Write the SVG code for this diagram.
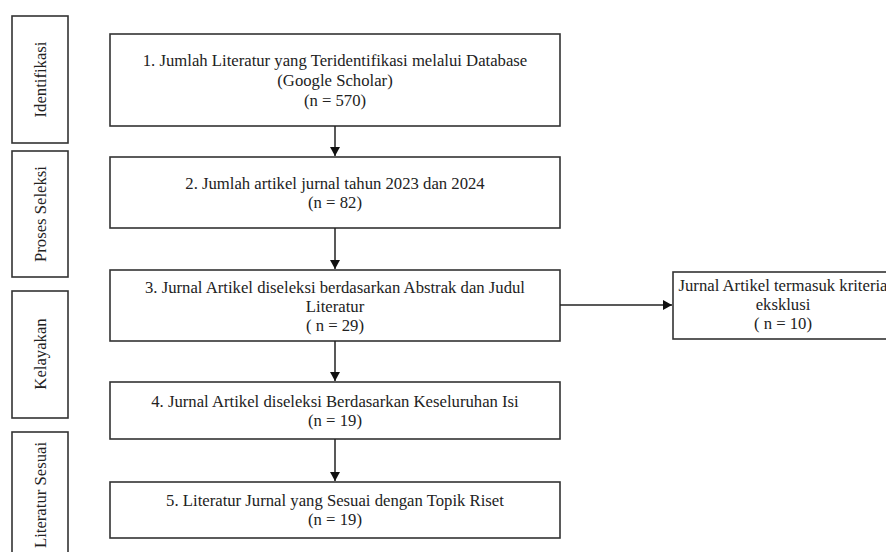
<svg xmlns="http://www.w3.org/2000/svg" width="886" height="552" viewBox="0 0 886 552">
<style>
.box{fill:#fff;stroke:#333;stroke-width:1.6}
.c{stroke:#222;stroke-width:1.5;fill:none;marker-end:url(#ah)}
</style>
<defs>
<marker id="ah" markerUnits="userSpaceOnUse" markerWidth="10" markerHeight="10" refX="9" refY="5" orient="auto">
<path d="M0,0 L9,5 L0,10 Z" fill="#111"/>
</marker>
</defs>
<rect width="886" height="552" fill="#fff"/>
<g font-family="Liberation Serif" font-size="16.7" fill="#222" text-anchor="middle">
<g id="stage-identifikasi">
<rect class="box" x="12" y="16" width="56" height="127"/>
<text transform="translate(40,79.5) rotate(-90)" y="5.5">Identifikasi</text>
</g>
<g id="stage-proses-seleksi">
<rect class="box" x="12" y="151" width="56" height="126"/>
<text transform="translate(40,214) rotate(-90)" y="5.5">Proses Seleksi</text>
</g>
<g id="stage-kelayakan">
<rect class="box" x="12" y="291" width="56" height="127"/>
<text transform="translate(40,354) rotate(-90)" y="5.5">Kelayakan</text>
</g>
<g id="stage-literatur-sesuai">
<rect class="box" x="12" y="432" width="56" height="130"/>
<text transform="translate(40,495) rotate(-90)" y="5.5">Literatur Sesuai</text>
</g>
<g id="node1">
<rect class="box" x="110" y="34" width="450" height="92"/>
<text x="335" y="65.5">1. Jumlah Literatur yang Teridentifikasi melalui Database</text>
<text x="335" y="85.5">(Google Scholar)</text>
<text x="335" y="105.5">(n = 570)</text>
</g>
<g id="node2">
<rect class="box" x="110" y="157" width="450" height="71"/>
<text x="335" y="188.5">2. Jumlah artikel jurnal tahun 2023 dan 2024</text>
<text x="335" y="208">(n = 82)</text>
</g>
<g id="node3">
<rect class="box" x="110" y="270" width="450" height="71"/>
<text x="335" y="292.5">3. Jurnal Artikel diseleksi berdasarkan Abstrak dan Judul</text>
<text x="335" y="311.5">Literatur</text>
<text x="335" y="330.5">( n = 29)</text>
</g>
<g id="node-exclusion">
<rect class="box" x="673" y="272" width="222" height="67"/>
<text x="783" y="290.5">Jurnal Artikel termasuk kriteria</text>
<text x="783" y="309.5">eksklusi</text>
<text x="783" y="328.5">( n = 10)</text>
</g>
<g id="node4">
<rect class="box" x="110" y="382" width="450" height="57"/>
<text x="335" y="406.5">4. Jurnal Artikel diseleksi Berdasarkan Keseluruhan Isi</text>
<text x="335" y="425.5">(n = 19)</text>
</g>
<g id="node5">
<rect class="box" x="110" y="482" width="450" height="56"/>
<text x="335" y="505.5">5. Literatur Jurnal yang Sesuai dengan Topik Riset</text>
<text x="335" y="524.5">(n = 19)</text>
</g>
</g>
<g id="connectors">
<path class="c" d="M335,126 V156"/>
<path class="c" d="M335,228 V269"/>
<path class="c" d="M335,341 V381"/>
<path class="c" d="M335,439 V481"/>
<path class="c" d="M560,305 H672"/>
</g>
</svg>
